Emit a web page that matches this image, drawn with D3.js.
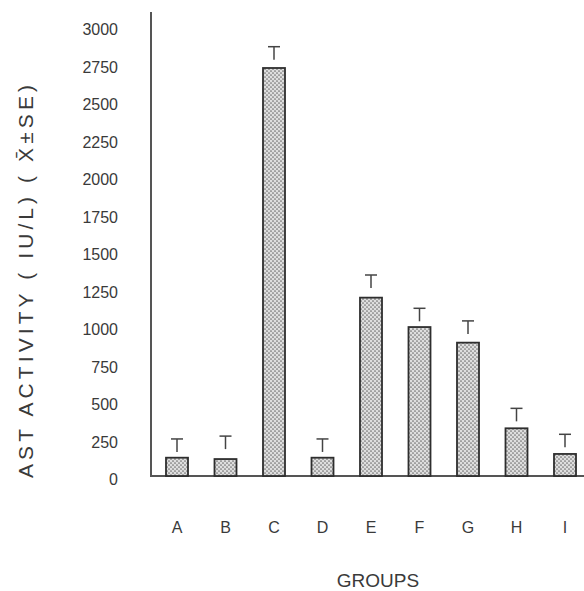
<!DOCTYPE html>
<html>
<head>
<meta charset="utf-8">
<script src="https://cdn.jsdelivr.net/npm/d3@7"></script>
<style>
    html, body { margin: 0; padding: 0; background: #fff; }
    svg { display: block; }
</style>
</head>
<body>
<svg id="svg" width="584" height="591"></svg>
<script>
// groups and AST activity (mean and SE)
const groups = ["A", "B", "C", "D", "E", "F", "G", "H", "I"];
const means = [122, 113, 2720, 122, 1189, 993, 889, 318, 147];
const errors = [125, 153, 142, 125, 151, 125, 145, 133, 131];
const yTicks = [0, 250, 500, 750, 1000, 1250, 1500, 1750, 2000, 2250, 2500, 2750, 3000];

const font = "'Liberation Sans', Arial, sans-serif";
const ink = "#3a3a3a";

const svg = d3.select("#svg");

const x = d3.scalePoint().domain(groups).range([177, 565]);
const y = d3.scaleLinear().domain([0, 3000]).range([476, 26]);
const barWidth = 22;

// stipple fill for the bars
const defs = svg.append("defs");
const pat = defs.append("pattern")
    .attr("id", "dots")
    .attr("patternUnits", "userSpaceOnUse")
    .attr("width", 4)
    .attr("height", 4);
pat.append("rect").attr("width", 4).attr("height", 4).attr("fill", "#dedede");
pat.append("circle").attr("cx", 1).attr("cy", 1).attr("r", 0.85).attr("fill", "#707070");
pat.append("circle").attr("cx", 3).attr("cy", 3).attr("r", 0.85).attr("fill", "#707070");

// y axis, labels only
const yAxis = svg.append("g")
    .attr("transform", "translate(151,0)")
    .call(d3.axisLeft(y).tickValues(yTicks).tickFormat(d3.format("d")).tickSize(0).tickPadding(33));
yAxis.select(".domain").remove();
yAxis.selectAll("text")
    .attr("dy", "0.55em")
    .style("font-family", font)
    .style("font-size", "16px")
    .style("fill", ink);

// axis lines
svg.append("line")
    .attr("x1", 151).attr("x2", 151)
    .attr("y1", 12).attr("y2", y(0))
    .style("stroke", "#555")
    .style("stroke-width", 2);
svg.append("line")
    .attr("x1", 150).attr("x2", 584)
    .attr("y1", y(0)).attr("y2", y(0))
    .style("stroke", "#555")
    .style("stroke-width", 2);

const data = groups.map((g, i) => ({ group: g, mean: means[i], se: errors[i] }));

// bars
svg.append("g").selectAll("rect")
    .data(data)
    .join("rect")
    .attr("x", d => x(d.group) - barWidth / 2)
    .attr("y", d => y(d.mean))
    .attr("width", barWidth)
    .attr("height", d => y(0) - y(d.mean))
    .style("fill", "url(#dots)")
    .style("stroke", "#2e2e2e")
    .style("stroke-width", 1.8);

// T shaped error marks
const err = svg.append("g")
    .style("stroke", "#444")
    .style("stroke-width", 1.5);
err.selectAll(".cap")
    .data(data)
    .join("line")
    .attr("class", "cap")
    .attr("x1", d => x(d.group) - 6)
    .attr("x2", d => x(d.group) + 6)
    .attr("y1", d => y(d.mean + d.se))
    .attr("y2", d => y(d.mean + d.se));
err.selectAll(".stem")
    .data(data)
    .join("line")
    .attr("class", "stem")
    .attr("x1", d => x(d.group))
    .attr("x2", d => x(d.group))
    .attr("y1", d => y(d.mean + d.se))
    .attr("y2", d => y(d.mean + d.se) + 13);

// group letters
svg.append("g").selectAll("text")
    .data(groups)
    .join("text")
    .attr("x", d => x(d))
    .attr("y", 533)
    .attr("text-anchor", "middle")
    .style("font-family", font)
    .style("font-size", "16px")
    .style("fill", ink)
    .text(d => d);

// axis titles
svg.append("text")
    .attr("x", 378)
    .attr("y", 587)
    .attr("text-anchor", "middle")
    .style("font-family", font)
    .style("font-size", "19px")
    .style("fill", ink)
    .text("GROUPS");

svg.append("text")
    .attr("transform", "translate(33,478)rotate(-90)")
    .attr("textLength", 393)
    .attr("lengthAdjust", "spacing")
    .style("font-family", font)
    .style("font-size", "21px")
    .style("fill", ink)
    .text("AST ACTIVITY ( IU/L) ( X\u0304\u00b1SE)");
</script>
</body>
</html>
